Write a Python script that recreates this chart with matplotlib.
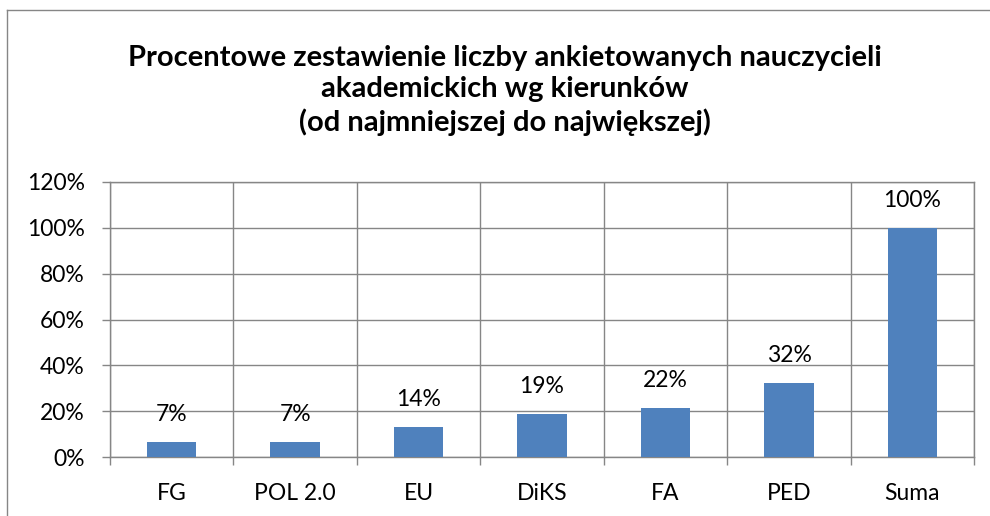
import matplotlib
matplotlib.use("Agg")
import matplotlib.pyplot as plt
from matplotlib.lines import Line2D
from matplotlib.ticker import FixedLocator
import numpy as np

plt.rcParams["font.family"] = ["Lato", "DejaVu Sans"]

categories = ["FG", "POL 2.0", "EU", "DiKS", "FA", "PED", "Suma"]
values = [0.065, 0.066, 0.133, 0.187, 0.216, 0.323, 1.0]
labels = ["7%", "7%", "14%", "19%", "22%", "32%", "100%"]
y_ticks = [0, 0.2, 0.4, 0.6, 0.8, 1.0, 1.2]
y_tick_labels = ["0%", "20%", "40%", "60%", "80%", "100%", "120%"]

title = ("Procentowe zestawienie liczby ankietowanych nauczycieli\n"
         "akademickich wg kierunków\n"
         "(od najmniejszej do największej)")

bar_color = "#4F81BD"
grid_color = "#868686"
fs = 16.5

fig = plt.figure(figsize=(9.9, 5.16), dpi=100)
ax = fig.add_axes([0.111, 0.1143, 0.873, 0.533])

x = np.arange(len(categories))
ax.bar(x, values, width=0.4, color=bar_color, zorder=3)

# data labels above the bars
for xi, v, lab in zip(x, values, labels):
    ax.annotate(lab, (xi, v), xytext=(0, 12), textcoords="offset points",
                ha="center", va="bottom", fontsize=fs, zorder=4)

ax.set_xlim(-0.5, len(categories) - 0.5)
ax.set_ylim(0, 1.2)

ax.set_yticks(y_ticks)
ax.set_yticklabels(y_tick_labels, fontsize=fs)
ax.xaxis.set_major_locator(FixedLocator(x))
ax.set_xticklabels(categories, fontsize=fs)
ax.xaxis.set_minor_locator(FixedLocator(np.arange(len(categories) + 1) - 0.5))

ax.tick_params(axis="x", which="major", length=0, pad=19)
ax.tick_params(axis="x", which="minor", length=6, color=grid_color, width=1)
ax.tick_params(axis="y", length=6, color=grid_color, width=1, pad=12)

ax.grid(axis="y", color=grid_color, linewidth=1, zorder=0)
ax.grid(axis="x", which="minor", color=grid_color, linewidth=1, zorder=0)
ax.set_axisbelow(True)

for s in ax.spines.values():
    s.set_color(grid_color)
    s.set_linewidth(1)

fig.text(0.51, 0.825, title, ha="center", va="center", fontsize=21,
         fontweight="bold", linespacing=1.25)

# chart frame (partly cut off at the right and bottom)
fig.add_artist(Line2D([0.007, 1.0], [0.981, 0.981], color=grid_color,
                      linewidth=1, transform=fig.transFigure))
fig.add_artist(Line2D([0.007, 0.007], [0.0, 0.981], color=grid_color,
                      linewidth=1, transform=fig.transFigure))

fig.savefig("out.png", dpi=100)
